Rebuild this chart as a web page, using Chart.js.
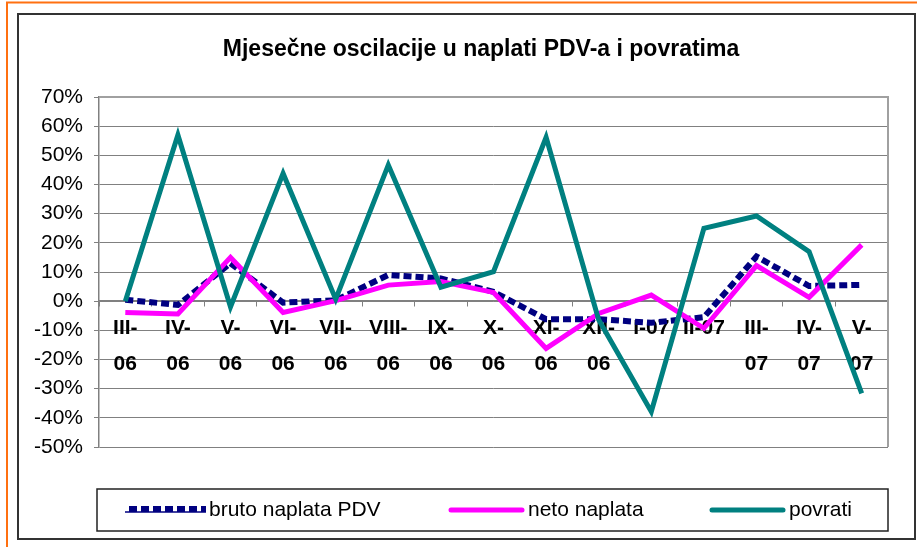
<!DOCTYPE html>
<html>
<head>
<meta charset="utf-8">
<script src="https://cdn.jsdelivr.net/npm/chart.js@4/dist/chart.umd.min.js"></script>
<style>
  html, body { margin: 0; padding: 0; background: #ffffff; }
  #wrap { width: 917px; height: 547px; position: relative; }
</style>
</head>
<body>
<div id="wrap"><canvas id="c" width="917" height="547"></canvas></div>
<script>
// ---- data (percent) ----
const categories = [
  ["III-", "06"], ["IV-", "06"], ["V-", "06"], ["VI-", "06"], ["VII-", "06"],
  ["VIII-", "06"], ["IX-", "06"], ["X-", "06"], ["XI-", "06"], ["XII-", "06"],
  ["I-07"], ["II-07"], ["III-", "07"], ["IV-", "07"], ["V-", "07"]
];
const brutoNaplata = [0.5, -1.3, 13, -0.5, 0.3, 9, 7.8, 3.2, -6.2, -6.2, -7.4, -5.5, 15.3, 5.2, 5.6];
const netoNaplata  = [-3.9, -4.4, 15, -3.9, 0.2, 5.5, 6.7, 3, -16.2, -4.2, 2.1, -9.3, 12.2, 1.3, 19.3];
const povrati      = [0, 57, -2, 43.8, 0.7, 46.7, 4.8, 10.1, 56.2, -6.4, -37.9, 25, 29.2, 17, -31.6];
const seriesNames  = ["bruto naplata PDV", "neto naplata", "povrati"];
const yTickMin = -50, yTickMax = 70, yTickStep = 10;
const chartTitle = "Mjesečne oscilacije u naplati PDV-a i povratima";

const FONT = "'Liberation Sans', Arial, sans-serif";

// frames, plot border, title centring
const framePlugin = {
  id: 'frames',
  afterLayout(chart) {
    if (chart.titleBlock) { chart.titleBlock.left = 74; }
  },
  beforeDraw(chart) {
    const ctx = chart.ctx;
    ctx.save();
    ctx.fillStyle = '#ffffff';
    ctx.fillRect(0, 0, chart.width, chart.height);
    ctx.strokeStyle = '#FF7010';
    ctx.lineWidth = 2;
    ctx.beginPath();
    ctx.moveTo(6, 2.5); ctx.lineTo(917, 2.5);
    ctx.moveTo(7, 2); ctx.lineTo(7, 547);
    ctx.stroke();
    ctx.strokeStyle = '#333333';
    ctx.lineWidth = 2;
    ctx.strokeRect(18, 14, 897, 525);
    ctx.restore();
  },
  beforeDatasetsDraw(chart) {
    const a = chart.chartArea, ctx = chart.ctx;
    ctx.save();
    ctx.strokeStyle = '#a0a0a0';
    ctx.lineWidth = 2;
    ctx.beginPath();
    ctx.moveTo(a.left, a.top); ctx.lineTo(a.right, a.top); ctx.lineTo(a.right, a.bottom);
    ctx.stroke();
    ctx.restore();
  }
};

// custom legend in a box
const legendPlugin = {
  id: 'boxLegend',
  afterDraw(chart) {
    const ctx = chart.ctx;
    ctx.save();
    const box = { x: 97, y: 489, w: 791, h: 42 };
    ctx.strokeStyle = '#222222';
    ctx.lineWidth = 1.5;
    ctx.strokeRect(box.x, box.y, box.w, box.h);
    const cy = box.y + box.h / 2;
    const starts = [129, 448, 709];
    ctx.font = '21px ' + FONT;
    ctx.textBaseline = 'middle';
    ctx.fillStyle = '#000000';
    chart.data.datasets.forEach((ds, i) => {
      const x0 = starts[i], x1 = x0 + 77;
      ctx.save();
      ctx.strokeStyle = ds.borderColor;
      ctx.lineWidth = ds.borderWidth;
      ctx.lineCap = ds.borderDash ? 'butt' : 'round';
      if (ds.borderDash) {
        ctx.setLineDash(ds.borderDash);
        ctx.beginPath(); ctx.moveTo(x0, cy - 1); ctx.lineTo(x1, cy - 1); ctx.stroke();
        ctx.setLineDash([]);
        ctx.lineWidth = 1.5;
        ctx.beginPath(); ctx.moveTo(x0 - 4, cy + 2); ctx.lineTo(x1, cy + 2); ctx.stroke();
      } else {
        ctx.beginPath(); ctx.moveTo(x0 + 3, cy); ctx.lineTo(x1 - 3, cy); ctx.stroke();
      }
      ctx.restore();
      ctx.fillText(ds.label, x1 + 3, cy);
    });
    ctx.restore();
  }
};

new Chart(document.getElementById('c'), {
  type: 'line',
  data: {
    labels: categories,
    datasets: [
      { label: seriesNames[0], data: brutoNaplata, borderColor: '#000080', borderWidth: 6,
        borderDash: [8, 4], pointRadius: 0, tension: 0, order: 3, fill: false },
      { label: seriesNames[1], data: netoNaplata, borderColor: '#FF00FF', borderWidth: 5,
        pointRadius: 0, tension: 0, order: 2, fill: false },
      { label: seriesNames[2], data: povrati, borderColor: '#008080', borderWidth: 5,
        pointRadius: 0, tension: 0, order: 1, fill: false }
    ]
  },
  options: {
    responsive: false,
    animation: false,
    layout: { padding: { left: 20, right: 29, top: 36, bottom: 100 } },
    plugins: {
      legend: { display: false },
      tooltip: { enabled: false },
      title: {
        display: true, text: chartTitle, color: '#000000',
        font: { family: FONT, size: 23, weight: 'bold', lineHeight: 1.2 },
        padding: { top: 0, bottom: 33.4 }
      }
    },
    scales: {
      x: {
        type: 'category',
        position: { y: 0 },
        offset: true,
        grid: { drawOnChartArea: false, drawTicks: true, tickLength: 5, offset: true, color: '#808080', lineWidth: 1 },
        border: { display: true, color: '#808080', width: 1.5 },
        ticks: {
          color: '#000000', autoSkip: false, maxRotation: 0, minRotation: 0, padding: 4,
          font: { family: FONT, size: 21, weight: 'bold', lineHeight: 1.7 }
        }
      },
      y: {
        min: yTickMin, max: yTickMax,
        afterFit(scale) { scale.width = 79; },
        grid: { color: '#808080', lineWidth: 1, drawTicks: true, tickLength: 5 },
        border: { display: true, color: '#808080', width: 1.5 },
        ticks: {
          stepSize: yTickStep, color: '#000000', padding: 11,
          font: { family: FONT, size: 21 },
          callback: v => v + '%'
        }
      }
    }
  },
  plugins: [framePlugin, legendPlugin]
});
</script>
</body>
</html>
